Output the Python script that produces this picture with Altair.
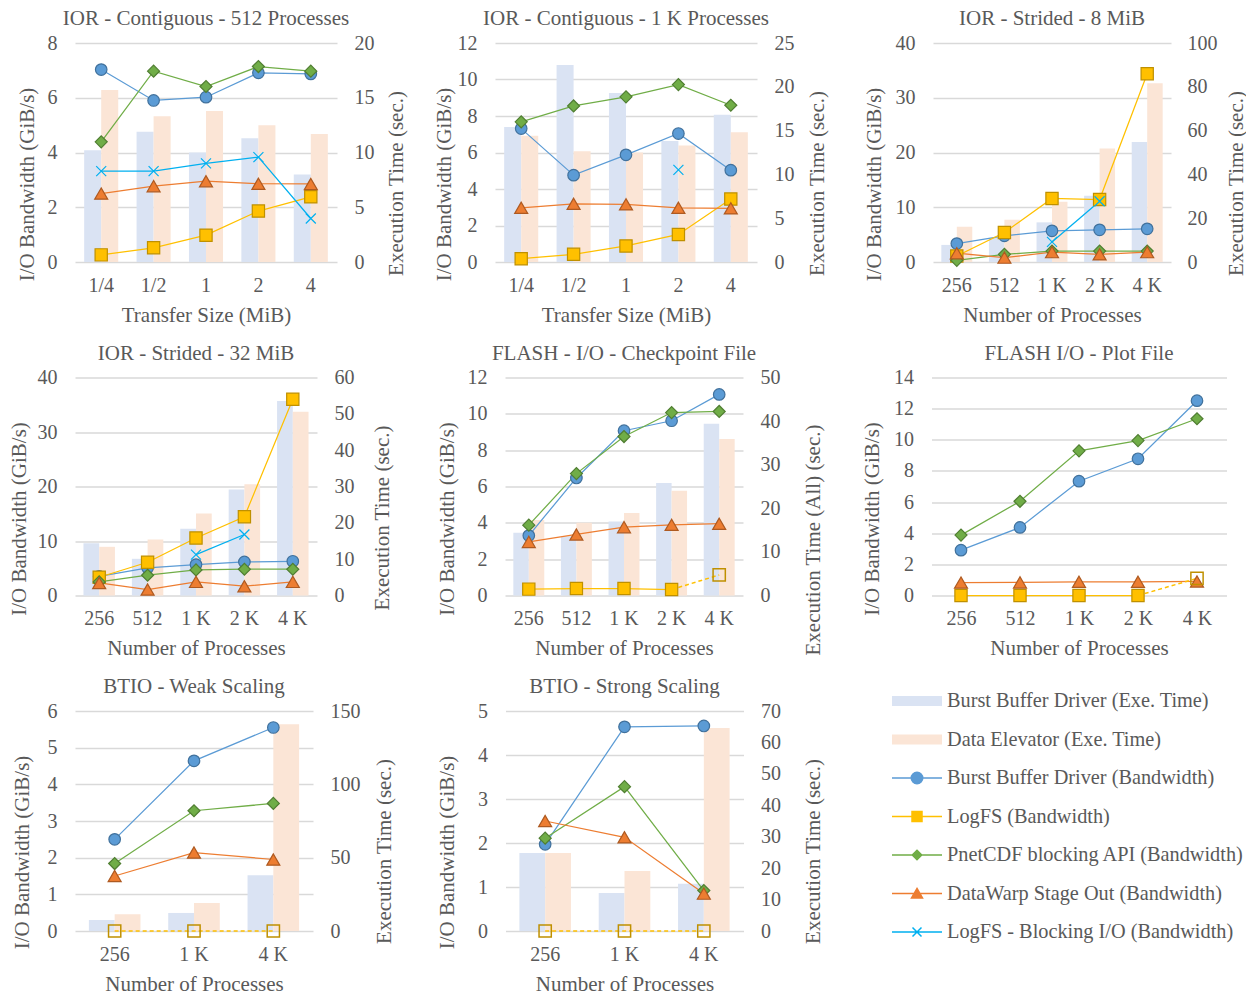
import json
import altair as alt
import pandas as pd

FONT = "Liberation Serif"
TXT = "#595959"
GRID = "#D9D9D9"

S_BBT = "Burst Buffer Driver (Exe. Time)"
S_DET = "Data Elevator (Exe. Time)"
S_BBD = "Burst Buffer Driver (Bandwidth)"
S_LOG = "LogFS (Bandwidth)"
S_PNC = "PnetCDF blocking API (Bandwidth)"
S_DW = "DataWarp Stage Out (Bandwidth)"
S_BLK = "LogFS - Blocking I/O (Bandwidth)"
SERIES = [S_BBT, S_DET, S_BBD, S_LOG, S_PNC, S_DW, S_BLK]
BAR_SERIES = [S_BBT, S_DET]
LINE_SERIES = [S_BBD, S_LOG, S_PNC, S_DW, S_BLK]

FILL_RANGE = ["#DAE3F3", "#FBE5D6", "#5B9BD5", "#FFC000", "#70AD47", "#ED7D31", "#00B0F0"]
LINE_RANGE = ["#5B9BD5", "#FFC000", "#70AD47", "#ED7D31", "#00B0F0"]
MARK_STROKE = ["#41719C", "#BF9000", "#507E32", "#AE5A21", "#00B0F0"]
SHAPES = ["circle", "square", "diamond", "triangle-up", "M-1,-1L1,1M-1,1L1,-1"]
SIZES = [133, 150, 144, 169, 100]

CATS_TS = ["1/4", "1/2", "1", "2", "4"]
CATS_NP5 = ["256", "512", "1 K", "2 K", "4 K"]
CATS_NP3 = ["256", "1 K", "4 K"]

# Panel 1: IOR - Contiguous - 512 Processes
P1_BBT = [10.2, 11.9, 10.0, 11.3, 8.0]
P1_DET = [15.7, 13.3, 13.8, 12.5, 11.7]
P1_BBD = [7.03, 5.90, 6.02, 6.91, 6.87]
P1_LOG = [0.26, 0.52, 0.98, 1.86, 2.38]
P1_PNC = [4.39, 6.97, 6.41, 7.14, 6.97]
P1_DW = [2.50, 2.77, 2.95, 2.86, 2.85]
P1_BLK = [3.32, 3.32, 3.60, 3.83, 1.59]

# Panel 2: IOR - Contiguous - 1 K Processes
P2_BBT = [15.4, 22.5, 19.3, 13.8, 16.8]
P2_DET = [14.4, 12.65, 12.5, 13.3, 14.8]
P2_BBD = [7.31, 4.76, 5.87, 7.04, 5.03]
P2_LOG = [0.18, 0.42, 0.88, 1.51, 3.45]
P2_PNC = [7.68, 8.55, 9.05, 9.72, 8.59]
P2_DW = [2.97, 3.19, 3.16, 2.97, 2.94]
P2_BLK = [None, None, None, 5.05, None]

# Panel 3: IOR - Strided - 8 MiB
P3_BBT = [7.8, 11.0, 18.1, 30.3, 54.8]
P3_DET = [16.1, 19.3, 27.5, 51.8, 81.6]
P3_BBD = [3.37, 4.78, 5.70, 5.88, 6.06]
P3_LOG = [1.1, 5.39, 11.6, 11.4, 34.4]
P3_PNC = [0.3, 1.4, 2.0, 2.0, 2.0]
P3_DW = [1.6, 0.8, 1.8, 1.4, 1.8]
P3_BLK = [None, None, 3.67, 11.1, None]

# Panel 4: IOR - Strided - 32 MiB
P4_BBT = [14.4, 10.1, 18.4, 29.2, 53.5]
P4_DET = [13.4, 15.4, 22.6, 30.6, 50.6]
P4_BBD = [3.5, 5.06, 5.67, 6.16, 6.28]
P4_LOG = [3.35, 6.1, 10.55, 14.45, 36.0]
P4_PNC = [2.5, 3.72, 4.7, 4.82, 4.82]
P4_DW = [2.3, 1.1, 2.5, 1.7, 2.5]
P4_BLK = [None, None, 7.5, 11.2, None]

# Panel 5: FLASH - I/O - Checkpoint File
P5_BBT = [14.4, 13.6, 17.0, 25.8, 39.4]
P5_DET = [17.3, 16.7, 18.9, 24.0, 35.9]
P5_BBD = [3.3, 6.47, 9.07, 9.62, 11.07]
P5_LOG = [0.35, 0.38, 0.38, 0.33, 1.13]
P5_LOG_HOLLOW = [False, False, False, False, True]
P5_PNC = [3.87, 6.71, 8.75, 10.07, 10.13]
P5_DW = [2.95, 3.36, 3.76, 3.89, 3.95]

# Panel 6: FLASH I/O - Plot File
P6_BBD = [2.91, 4.37, 7.34, 8.78, 12.51]
P6_LOG = [0.0, 0.0, 0.0, 0.0, 1.1]
P6_LOG_HOLLOW = [False, False, False, False, True]
P6_PNC = [3.88, 6.05, 9.29, 9.95, 11.35]
P6_DW = [0.83, 0.84, 0.88, 0.88, 0.9]

# Panel 7: BTIO - Weak Scaling
P7_BBT = [7.5, 12.3, 38.0]
P7_DET = [11.4, 19.1, 140.9]
P7_BBD = [2.5, 4.64, 5.55]
P7_LOG = [0.0, 0.0, 0.0]
P7_LOG_HOLLOW = [True, True, True]
P7_PNC = [1.84, 3.28, 3.48]
P7_DW = [1.5, 2.14, 1.95]

# Panel 8: BTIO - Strong Scaling
P8_BBT = [24.8, 12.1, 15.0]
P8_DET = [24.8, 19.1, 64.6]
P8_BBD = [1.97, 4.64, 4.66]
P8_LOG = [0.0, 0.0, 0.0]
P8_LOG_HOLLOW = [True, True, True]
P8_PNC = [2.11, 3.28, 0.92]
P8_DW = [2.5, 2.13, 0.85]

# ---------------- legend ----------------
LEG_PATH = {
    S_BBT: "M-1,-0.2H1V0.2H-1Z",
    S_DET: "M-1,-0.2H1V0.2H-1Z",
    S_BBD: "M-1,0H-0.23M0.23,0H1M0.23,0A0.23,0.23,0,1,1,-0.23,0A0.23,0.23,0,1,1,0.23,0Z",
    S_LOG: "M-1,0H-0.2M0.2,0H1M-0.2,-0.2H0.2V0.2H-0.2Z",
    S_PNC: "M-1,0H-0.19M0.19,0H1M0,-0.19L0.19,0L0,0.19L-0.19,0Z",
    S_DW: "M-1,0H-0.12M0.12,0H1M0,-0.2L0.22,0.18H-0.22Z",
    S_BLK: "M-1,0H1M-0.18,-0.18L0.18,0.18M-0.18,0.18L0.18,-0.18",
}
LEG_STROKE = {S_BBT: "transparent", S_DET: "transparent", S_BBD: "#5B9BD5",
              S_LOG: "#FFC000", S_PNC: "#70AD47", S_DW: "#ED7D31", S_BLK: "#00B0F0"}


def switch_expr(mapping, default):
    expr = json.dumps(default)
    for k, v in reversed(list(mapping.items())):
        expr = "(datum.value === %s ? %s : %s)" % (json.dumps(k), json.dumps(v), expr)
    return expr


LEGEND = alt.Legend(
    orient="none", legendX=816, legendY=648, title=None, direction="vertical",
    symbolSize=2500, clipHeight=20, labelFont=FONT, labelFontSize=20.3, labelColor=TXT,
    labelOffset=4, rowPadding=17.5, labelLimit=500, symbolStrokeWidth=1.5,
    symbolType=alt.ExprRef(expr=switch_expr(LEG_PATH, "circle")),
    symbolStrokeColor=alt.ExprRef(expr=switch_expr(LEG_STROKE, "transparent")),
)
FILL_SCALE = alt.Scale(domain=SERIES, range=FILL_RANGE)


def panel(title, xtitle, cats, lines, bars, ymax, ystep, rmax, rstep, rtitle,
          w, h, lpad, rpad, rtitle_y=140, hollow=None, rlabpad=17):
    xscale = alt.Scale(domain=cats, paddingInner=0.35, paddingOuter=0.175)
    xaxis = alt.Axis(title=xtitle, labelAngle=0, labelPadding=13, titlePadding=9)
    laxis = alt.Axis(orient="left", values=list(range(0, ymax + 1, ystep)), grid=True,
                     title="I/O Bandwidth (GiB/s)", labelPadding=18, titlePadding=lpad,
                     titleY=141)
    rows = []
    for s, vals in lines.items():
        for i, v in enumerate(vals):
            if v is None:
                continue
            hol = hollow is not None and s == S_LOG and hollow[i]
            nxt = (hollow is not None and s == S_LOG and i + 1 < len(vals) and hollow[i + 1])
            rows.append(dict(cat=cats[i], idx=i, series=s, bw=v,
                             hollow=bool(hol), dashed=bool(hol or nxt)))
    ldf = pd.DataFrame(rows)
    X = alt.X("cat:N", scale=xscale, axis=xaxis)
    Y = alt.Y("bw:Q", scale=alt.Scale(domain=[0, ymax], nice=False), axis=laxis)
    base = alt.Chart(ldf)
    line = base.transform_filter("!datum.hollow").mark_line(strokeWidth=1.25).encode(
        x=X, y=Y, order=alt.Order("idx:Q"),
        color=alt.Color("series:N", scale=alt.Scale(domain=LINE_SERIES, range=LINE_RANGE),
                        legend=None))
    dash = base.transform_filter("datum.dashed").mark_line(
        strokeWidth=1.5, strokeDash=[4, 3], color="#FFC000").encode(
        x=X, y=Y, order=alt.Order("idx:Q"))
    pts = base.transform_filter("!datum.hollow").mark_point(
        filled=True, opacity=1, strokeWidth=1.2).encode(
        x=X, y=Y,
        fill=alt.Fill("series:N", scale=FILL_SCALE, legend=LEGEND),
        stroke=alt.Stroke("series:N", scale=alt.Scale(domain=LINE_SERIES, range=MARK_STROKE),
                          legend=None),
        shape=alt.Shape("series:N", scale=alt.Scale(domain=LINE_SERIES, range=SHAPES),
                        legend=None),
        size=alt.Size("series:N", scale=alt.Scale(type="ordinal", domain=LINE_SERIES,
                                                  range=SIZES), legend=None))
    hpts = base.transform_filter("datum.hollow").mark_point(
        shape="square", filled=False, stroke="#BF9000", strokeWidth=1.5, size=150,
        opacity=1).encode(x=X, y=Y)
    inner = alt.layer(line, dash, pts, hpts)
    if bars:
        brows = [dict(cat=cats[i], series=s, time=v)
                 for s, vals in bars.items() for i, v in enumerate(vals)]
        raxis = alt.Axis(orient="right", values=list(range(0, rmax + 1, rstep)), grid=False,
                         title=rtitle, titleAngle=270, titleBaseline="top",
                         labelPadding=rlabpad, titlePadding=rpad, titleY=rtitle_y)
        bar = alt.Chart(pd.DataFrame(brows)).mark_bar().encode(
            x=X,
            xOffset=alt.XOffset("series:N", scale=alt.Scale(domain=BAR_SERIES)),
            y=alt.Y("time:Q", scale=alt.Scale(domain=[0, rmax], nice=False), axis=raxis),
            fill=alt.Fill("series:N", scale=FILL_SCALE, legend=LEGEND))
        ch = alt.layer(bar, inner).resolve_scale(y="independent")
    else:
        ch = inner
    return ch.properties(width=w, height=h, title=title)


TS = "Transfer Size (MiB)"
NP = "Number of Processes"
ET = "Execution Time (sec.)"

p1 = panel("IOR - Contiguous - 512 Processes", TS, CATS_TS,
           {S_BBD: P1_BBD, S_LOG: P1_LOG, S_PNC: P1_PNC, S_DW: P1_DW, S_BLK: P1_BLK},
           {S_BBT: P1_BBT, S_DET: P1_DET}, 8, 2, 20, 5, ET, 262, 219, 10, 11)
p2 = panel("IOR - Contiguous - 1 K Processes", TS, CATS_TS,
           {S_BBD: P2_BBD, S_LOG: P2_LOG, S_PNC: P2_PNC, S_DW: P2_DW, S_BLK: P2_BLK},
           {S_BBT: P2_BBT, S_DET: P2_DET}, 12, 2, 25, 5, ET, 262, 219, 3, 12)
p3 = panel("IOR - Strided - 8 MiB", NP, CATS_NP5,
           {S_BBD: P3_BBD, S_LOG: P3_LOG, S_PNC: P3_PNC, S_DW: P3_DW, S_BLK: P3_BLK},
           {S_BBT: P3_BBT, S_DET: P3_DET}, 40, 10, 100, 20, ET, 238, 219, 11, 8,
           rlabpad=16)
p4 = panel("IOR - Strided - 32 MiB", NP, CATS_NP5,
           {S_BBD: P4_BBD, S_LOG: P4_LOG, S_PNC: P4_PNC, S_DW: P4_DW, S_BLK: P4_BLK},
           {S_BBT: P4_BBT, S_DET: P4_DET}, 40, 10, 60, 10, ET, 242, 218, 8, 17)
p5 = panel("FLASH - I/O - Checkpoint File", NP, CATS_NP5,
           {S_BBD: P5_BBD, S_LOG: P5_LOG, S_PNC: P5_PNC, S_DW: P5_DW},
           {S_BBT: P5_BBT, S_DET: P5_DET}, 12, 2, 50, 10, "Execution Time (All) (sec.)",
           238, 218, 10, 22, rtitle_y=162, hollow=P5_LOG_HOLLOW)
p6 = panel("FLASH I/O - Plot File", NP, CATS_NP5,
           {S_BBD: P6_BBD, S_LOG: P6_LOG, S_PNC: P6_PNC, S_DW: P6_DW},
           None, 14, 2, 0, 1, None, 295, 218, 11, 0, hollow=P6_LOG_HOLLOW)
p7 = panel("BTIO - Weak Scaling", NP, CATS_NP3,
           {S_BBD: P7_BBD, S_LOG: P7_LOG, S_PNC: P7_PNC, S_DW: P7_DW},
           {S_BBT: P7_BBT, S_DET: P7_DET}, 6, 1, 150, 50, ET, 238, 220, 15, 13,
           hollow=P7_LOG_HOLLOW)
p8 = panel("BTIO - Strong Scaling", NP, CATS_NP3,
           {S_BBD: P8_BBD, S_LOG: P8_LOG, S_PNC: P8_PNC, S_DW: P8_DW},
           {S_BBT: P8_BBT, S_DET: P8_DET}, 5, 1, 70, 10, ET, 238, 220, 20, 22,
           hollow=P8_LOG_HOLLOW)

row1 = alt.hconcat(alt.hconcat(p1, p2, spacing=27).resolve_scale(xOffset="independent"),
                   p3, spacing=36).resolve_scale(xOffset="independent")
row2 = alt.hconcat(alt.hconcat(p4, p5, spacing=44).resolve_scale(xOffset="independent"),
                   p6, spacing=38.5).resolve_scale(xOffset="independent")
row3 = alt.hconcat(p7, p8, spacing=42.5).resolve_scale(xOffset="independent")

chart = alt.concat(row1, row2, row3, columns=1, align="none", spacing=17.5).resolve_scale(
    xOffset="independent").properties(
    padding={"left": 0, "top": 0, "right": 0, "bottom": 0},
    background="white",
).configure_axis(
    labelFont=FONT, labelFontSize=20, labelColor=TXT,
    titleFont=FONT, titleFontSize=21, titleColor=TXT, titleFontWeight="normal",
    ticks=False, domain=False, gridColor=GRID, gridWidth=1.5,
).configure_title(
    font=FONT, fontSize=21, color=TXT, fontWeight="normal", offset=4,
    anchor="middle", frame="group",
).configure_view(stroke=None)

chart.save("out.html", embed_options={"renderer": "svg", "actions": False})
